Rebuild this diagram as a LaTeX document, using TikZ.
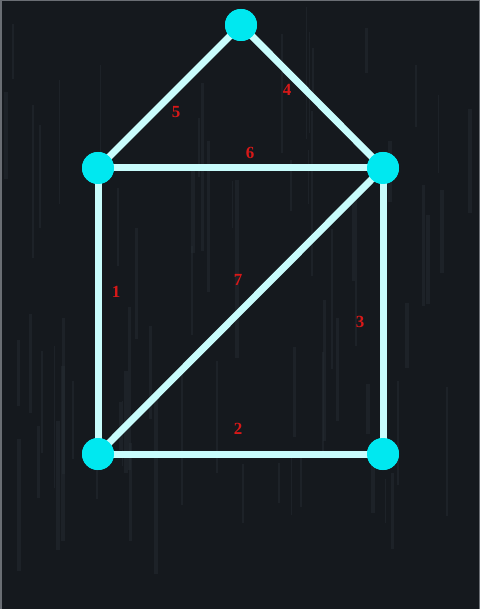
\documentclass[tikz,border=0pt]{standalone}
\usepackage{fontspec}
\newfontfamily\lblfont{Liberation Serif}
\begin{document}
\begin{tikzpicture}[x=1pt,y=-1pt,
  vert/.style={circle,fill=vcyan,minimum size=32pt,inner sep=0pt},
  edge/.style={draw=ecyan,line width=7pt},
  lbl/.style={text=lred,font=\lblfont\fontsize{17}{17}\selectfont\bfseries,inner sep=0pt}]
\definecolor{bg}{HTML}{15191E}
\definecolor{grain}{HTML}{262C33}
\definecolor{vcyan}{HTML}{00E8F0}
\definecolor{ecyan}{HTML}{C8FCFC}
\definecolor{lred}{HTML}{D81818}
\definecolor{frame}{HTML}{6A6E74}
\useasboundingbox (0,0) rectangle (480,609);
\fill[frame] (0,0) rectangle (480,609);
\fill[bg] (1.5,1.5) rectangle (478.5,609);
\begin{scope}
\clip (1.5,1.5) rectangle (478.5,609);
\pgfmathsetseed{7}
\foreach \i in {1,...,70}{
  \pgfmathsetmacro{\gx}{4+rnd*472}
  \pgfmathsetmacro{\gy}{rnd*480}
  \pgfmathsetmacro{\gl}{40+rnd*140}
  \pgfmathsetmacro{\gw}{1+rnd*3}
  \draw[grain,opacity=0.5,line width=\gw pt] (\gx,\gy) -- ++(0,\gl);
}
\end{scope}
\node[vert] (t) at (241,25) {};
\node[vert] (l) at (98,168) {};
\node[vert] (r) at (383,168) {};
\node[vert] (bl) at (98,454) {};
\node[vert] (br) at (383,454) {};
\path[edge] (t.center) -- (l.center);
\path[edge] (t.center) -- (r.center);
\path[edge] (l.center) -- (r.center);
\path[edge] (l.center) -- (bl.center);
\path[edge] (r.center) -- (br.center);
\path[edge] (bl.center) -- (br.center);
\path[edge] (bl.center) -- (r.center);
\node[vert] at (t) {};
\node[vert] at (l) {};
\node[vert] at (r) {};
\node[vert] at (bl) {};
\node[vert] at (br) {};
\node[lbl] (n1) at (116,292) {1};
\node[lbl] (n2) at (238,429) {2};
\node[lbl] (n3) at (360,322) {3};
\node[lbl] (n4) at (287,90) {4};
\node[lbl] (n5) at (176,112) {5};
\node[lbl] (n6) at (250,153) {6};
\node[lbl] (n7) at (238,280) {7};
\end{tikzpicture}
\end{document}
